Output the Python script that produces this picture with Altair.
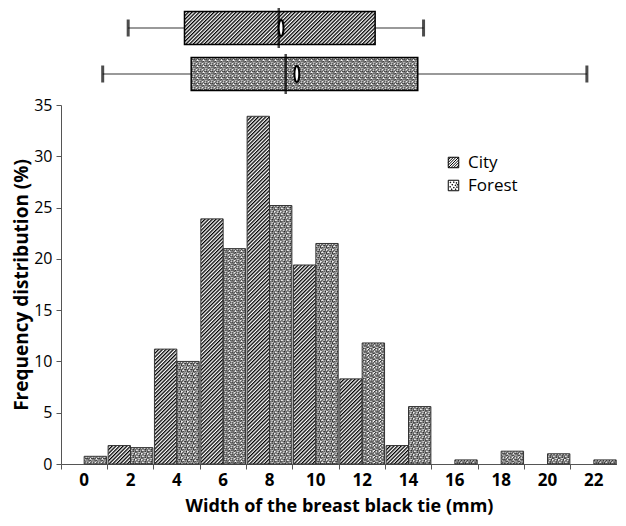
import base64
import altair as alt
import pandas as pd

# ---------------- data ----------------
categories = [0, 2, 4, 6, 8, 10, 12, 14, 16, 18, 20, 22]
city = [0, 1.8, 11.2, 23.9, 33.9, 19.4, 8.3, 1.8, 0, 0, 0, 0]
forest = [0.75, 1.6, 10.0, 21.0, 25.2, 21.5, 11.8, 5.6, 0.4, 1.25, 1.0, 0.4]
groups = ["City", "Forest"]
y_ticks = [0, 5, 10, 15, 20, 25, 30, 35]

box_low = [1.9, 0.8]
box_q1 = [4.33, 4.62]
box_median = [8.4, 8.7]
box_q3 = [12.56, 14.4]
box_high = [14.65, 21.7]
box_mean = [8.5, 9.18]

FONT = "Open Sans"


def svg_uri(svg):
    return "data:image/svg+xml;base64," + base64.b64encode(svg.encode("utf-8")).decode("ascii")


HATCH = svg_uri(
    "<svg xmlns='http://www.w3.org/2000/svg' width='100%' height='100%'>"
    "<defs><pattern id='h' width='2.6' height='2.6' patternUnits='userSpaceOnUse' "
    "patternTransform='rotate(45)'>"
    "<rect width='2.6' height='2.6' fill='#ffffff'/>"
    "<rect width='1.3' height='2.6' fill='#000000'/>"
    "</pattern></defs>"
    "<rect width='100%' height='100%' fill='url(#h)'/></svg>"
)

dot_cells = [(0, 0), (3, 0), (5, 1), (1, 1.5), (4, 2), (2, 3), (0, 3.5), (5, 4), (3, 5),
             (1, 5), (2.5, 1.5), (4, 3.5)]
DOTS = svg_uri(
    "<svg xmlns='http://www.w3.org/2000/svg' width='100%' height='100%'>"
    "<defs><pattern id='d' width='6' height='6' patternUnits='userSpaceOnUse'>"
    "<rect width='6' height='6' fill='#ffffff'/>"
    + "".join(f"<rect x='{a}' y='{b}' width='1.3' height='1.3' fill='#111111'/>" for a, b in dot_cells)
    + "</pattern></defs>"
    "<rect width='100%' height='100%' fill='url(#d)'/></svg>"
)
patterns = {"City": HATCH, "Forest": DOTS}

# legend swatch symbols (custom paths in the -1..1 box)
HATCH_SYMBOL = (
    "M-1,-1H1V1H-1Z M-1,-0.5L-0.5,-1 M-1,0L0,-1 M-1,0.5L0.5,-1 M-1,1L1,-1 "
    "M-0.5,1L1,-0.5 M0,1L1,0 M0.5,1L1,0.5"
)
dot_spots = [(-0.65, -0.65), (0.0, -0.7), (0.5, -0.55), (-0.3, -0.2), (0.3, -0.1),
             (-0.7, 0.2), (0.6, 0.25), (0.0, 0.35), (-0.4, 0.65), (0.35, 0.65), (0.7, -0.2)]
DOT_SYMBOL = "M-1,-1H1V1H-1Z " + " ".join(
    f"M{a:.2f},{b:.2f}h0.12v0.12h-0.12Z" for a, b in dot_spots
)

hist = pd.DataFrame({
    "mm": categories * 2,
    "Group": ["City"] * len(categories) + ["Forest"] * len(categories),
    "pct": city + forest,
})
hist = hist[hist["pct"] > 0]

box = pd.DataFrame({
    "Group": groups,
    "low": box_low,
    "q1": box_q1,
    "median": box_median,
    "q3": box_q3,
    "high": box_high,
    "mean": box_mean,
})

# ---------------- histogram ----------------
x_enc = alt.X(
    "mm:O",
    sort=categories,
    scale=alt.Scale(paddingInner=0, paddingOuter=0),
    axis=alt.Axis(
        title="Width of the breast black tie (mm)",
        labelAngle=0, bandPosition=0,
        labelFontSize=17, labelFontWeight="bold", labelColor="black", labelPadding=3,
        tickSize=5, tickColor="#555", domainColor="#555",
        titleFontSize=18, titleFontWeight="bold", titleColor="black", titlePadding=9,
    ),
)
xoff = alt.XOffset("Group:N", scale=alt.Scale(domain=groups, paddingInner=0, paddingOuter=0.035))
y_enc = alt.Y(
    "pct:Q",
    scale=alt.Scale(domain=[0, 35], nice=False),
    axis=alt.Axis(
        values=y_ticks, grid=False,
        title="Frequency distribution (%)",
        labelFontSize=16, labelColor="black", labelPadding=4,
        tickSize=5, tickColor="#555", domainColor="#555",
        titleFontSize=19, titleFontWeight="bold", titleColor="black", titlePadding=2,
    ),
)

hbase = alt.Chart(hist).encode(x=x_enc, xOffset=xoff, y=y_enc)

# legend carrier: tiny points hidden under the bars
legend_pts = hbase.transform_calculate(mid="datum.pct / 2").mark_point(
    size=4, filled=False, color="black", strokeWidth=1, opacity=1
).encode(
    y=alt.Y("mid:Q", scale=alt.Scale(domain=[0, 35], nice=False)),
    shape=alt.Shape(
        "Group:N",
        scale=alt.Scale(domain=groups, range=[HATCH_SYMBOL, DOT_SYMBOL]),
        legend=alt.Legend(
            title=None, orient="none", legendX=384, legendY=49,
            labelFontSize=17, labelColor="black", labelFont=FONT,
            symbolSize=110, symbolStrokeColor="black", symbolFillColor="white",
            symbolStrokeWidth=1, symbolOpacity=1, rowPadding=5, labelOffset=6,
        ),
    ),
)
fill_layer = hbase.mark_bar(color="#ffffff")
img_layers = [
    hbase.transform_filter(alt.datum.Group == g)
    .mark_image(url=patterns[g], aspect=False)
    .encode(y2=alt.datum(0))
    for g in groups
]
outline = hbase.mark_bar(fillOpacity=0, stroke="#333", strokeWidth=1)
hist_chart = alt.layer(legend_pts, fill_layer, *img_layers, outline).properties(width=556, height=359)

# ---------------- box plots ----------------
bx = alt.Scale(domain=[-1, 23], nice=False, zero=False)
by = alt.Y(
    "Group:N",
    scale=alt.Scale(domain=groups, range=[3.5, 82.5], paddingInner=0.2826, paddingOuter=0),
    axis=None,
)
bbase = alt.Chart(box).encode(y=by)
whisk = bbase.mark_rule(color="#777", strokeWidth=1.5).encode(
    x=alt.X("low:Q", scale=bx, axis=None), x2="high:Q"
)
box_fill = bbase.mark_bar(color="#ffffff").encode(
    x=alt.X("q1:Q", scale=bx, axis=None), x2="q3:Q"
)
box_imgs = [
    bbase.transform_filter(alt.datum.Group == g)
    .mark_image(url=patterns[g], aspect=False)
    .encode(x=alt.X("q1:Q", scale=bx, axis=None), x2="q3:Q")
    for g in groups
]
box_outline = bbase.mark_bar(fillOpacity=0, stroke="black", strokeWidth=1.5).encode(
    x=alt.X("q1:Q", scale=bx, axis=None), x2="q3:Q"
)
caps = bbase.transform_fold(["low", "high"], as_=["which", "v"]).mark_tick(
    size=17, thickness=3, color="black"
).encode(x=alt.X("v:Q", scale=bx, axis=None))
med = bbase.mark_tick(size=40, thickness=2.5, color="black").encode(
    x=alt.X("median:Q", scale=bx, axis=None)
)
ELLIPSE = "M0,-1 A0.3,1 0 1,1 0,1 A0.3,1 0 1,1 0,-1 Z"
mean_pt = bbase.mark_point(
    shape=ELLIPSE, size=260, filled=True, fill="#ffffff", stroke="black",
    strokeWidth=2, opacity=1,
).encode(x=alt.X("mean:Q", scale=bx, axis=None))

box_chart = alt.layer(whisk, box_fill, *box_imgs, box_outline, caps, med, mean_pt).properties(
    width=556, height=88
)

chart = (
    alt.vconcat(box_chart, hist_chart, spacing=9, bounds="flush")
    .resolve_scale(shape="independent")
    .properties(padding={"left": 4, "top": 0, "right": 0, "bottom": 2})
    .configure(font=FONT)
    .configure_view(stroke=None)
)

chart.save("out.html", embed_options={"renderer": "svg", "actions": False})
